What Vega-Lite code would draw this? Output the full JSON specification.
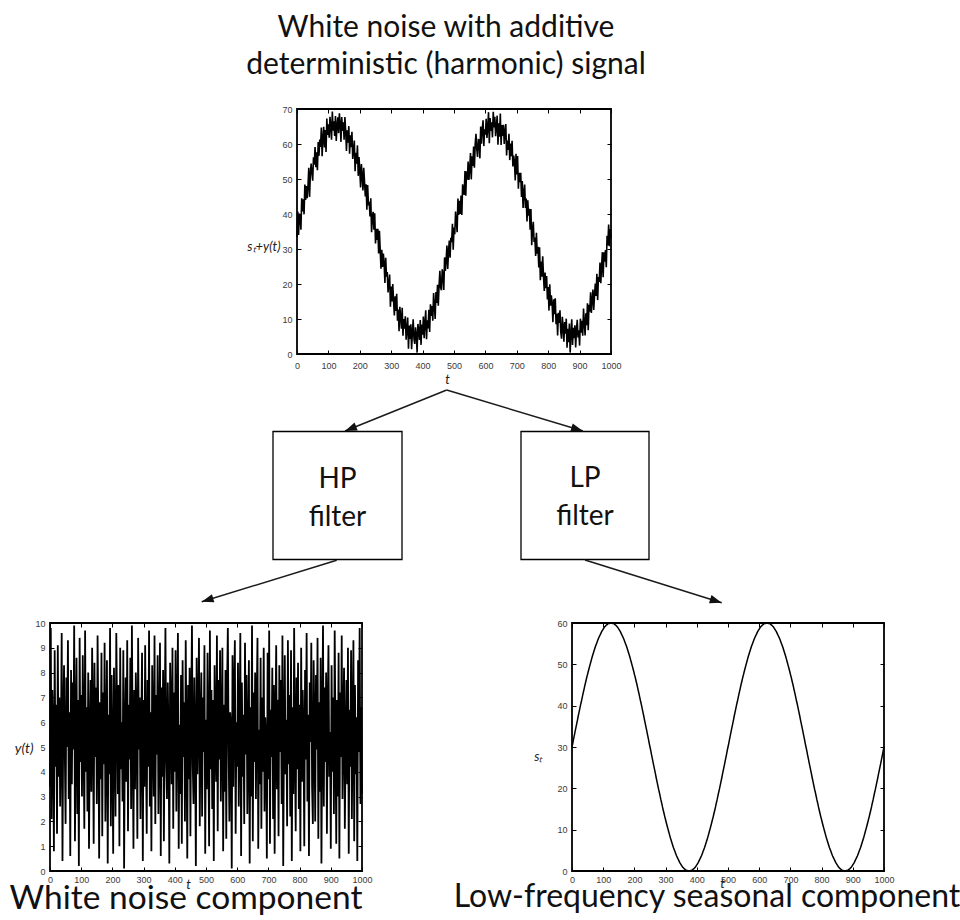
{
  "$schema": "https://vega.github.io/schema/vega-lite/v6.json",
  "background": "white",
  "padding": {"left": 8, "top": 12, "right": 0, "bottom": 0},
  "config": {
    "view": {"stroke": null},
    "font": "Lato",
    "title": {"font": "Lato", "fontWeight": "normal", "color": "#111"},
    "axis": {
      "grid": false,
      "domain": false,
      "ticks": true,
      "tickSize": -4,
      "tickColor": "black",
      "tickWidth": 1,
      "labelFont": "Liberation Sans",
      "labelFontSize": 9,
      "labelColor": "#3a3a3a",
      "labelFlush": false,
      "labelOverlap": false,
      "labelBound": false,
      "format": "d",
      "titleFont": "Lato",
      "titleFontStyle": "italic",
      "titleFontWeight": "normal",
      "titleFontSize": 13,
      "titleColor": "#222"
    }
  },
  "datasets": {
    "noise": [
      {"t":0,"y":3.4},{"t":2.5,"y":9.8},{"t":5,"y":2.1},{"t":7.5,"y":7.3},{"t":10,"y":5.6},{"t":12.5,"y":0.8},{"t":15,"y":8.9},{"t":17.5,"y":4.2},{"t":20,"y":6.7},{"t":22.5,"y":1.5},{"t":25,"y":9.1},{"t":27.5,"y":3.8},{"t":30,"y":7.0},{"t":32.5,"y":2.6},{"t":35,"y":5.2},{"t":37.5,"y":9.6},{"t":40,"y":0.4},{"t":42.5,"y":6.1},{"t":45,"y":8.3},{"t":47.5,"y":4.7},
      {"t":50,"y":1.9},{"t":52.5,"y":7.8},{"t":55,"y":5.0},{"t":57.5,"y":9.3},{"t":60,"y":2.9},{"t":62.5,"y":6.4},{"t":65,"y":0.6},{"t":67.5,"y":8.1},{"t":70,"y":3.5},{"t":72.5,"y":7.6},{"t":75,"y":4.9},{"t":77.5,"y":9.9},{"t":80,"y":1.2},{"t":82.5,"y":5.8},{"t":85,"y":8.6},{"t":87.5,"y":2.3},{"t":90,"y":6.9},{"t":92.5,"y":0.2},{"t":95,"y":9.4},{"t":97.5,"y":4.4},
      {"t":100,"y":7.1},{"t":102.5,"y":3.0},{"t":105,"y":8.7},{"t":107.5,"y":5.5},{"t":110,"y":1.7},{"t":112.5,"y":9.7},{"t":115,"y":4.0},{"t":117.5,"y":6.6},{"t":120,"y":2.4},{"t":122.5,"y":8.0},{"t":125,"y":0.9},{"t":127.5,"y":5.3},{"t":130,"y":7.7},{"t":132.5,"y":3.2},{"t":135,"y":9.0},{"t":137.5,"y":6.2},{"t":140,"y":1.1},{"t":142.5,"y":8.4},{"t":145,"y":4.6},{"t":147.5,"y":7.4},
      {"t":150,"y":2.7},{"t":152.5,"y":9.5},{"t":155,"y":5.9},{"t":157.5,"y":0.5},{"t":160,"y":6.8},{"t":162.5,"y":3.7},{"t":165,"y":8.8},{"t":167.5,"y":1.4},{"t":170,"y":7.2},{"t":172.5,"y":4.3},{"t":175,"y":9.2},{"t":177.5,"y":2.0},{"t":180,"y":5.1},{"t":182.5,"y":8.5},{"t":185,"y":0.3},{"t":187.5,"y":6.3},{"t":190,"y":3.9},{"t":192.5,"y":9.8},{"t":195,"y":1.8},{"t":197.5,"y":7.9},
      {"t":200,"y":4.8},{"t":202.5,"y":0.7},{"t":205,"y":8.2},{"t":207.5,"y":5.7},{"t":210,"y":2.2},{"t":212.5,"y":9.6},{"t":215,"y":6.5},{"t":217.5,"y":3.1},{"t":220,"y":7.5},{"t":222.5,"y":1.0},{"t":225,"y":9.0},{"t":227.5,"y":4.1},{"t":230,"y":6.0},{"t":232.5,"y":2.8},{"t":235,"y":8.9},{"t":237.5,"y":0.1},{"t":240,"y":5.4},{"t":242.5,"y":7.8},{"t":245,"y":3.6},{"t":247.5,"y":9.3},
      {"t":250,"y":1.6},{"t":252.5,"y":6.7},{"t":255,"y":4.5},{"t":257.5,"y":8.6},{"t":260,"y":2.5},{"t":262.5,"y":9.9},{"t":265,"y":5.2},{"t":267.5,"y":0.9},{"t":270,"y":7.3},{"t":272.5,"y":3.3},{"t":275,"y":8.0},{"t":277.5,"y":6.1},{"t":280,"y":1.3},{"t":282.5,"y":9.4},{"t":285,"y":4.9},{"t":287.5,"y":7.0},{"t":290,"y":2.1},{"t":292.5,"y":5.6},{"t":295,"y":8.8},{"t":297.5,"y":0.4},
      {"t":300,"y":6.9},{"t":302.5,"y":3.4},{"t":305,"y":9.1},{"t":307.5,"y":5.0},{"t":310,"y":1.5},{"t":312.5,"y":7.7},{"t":315,"y":4.2},{"t":317.5,"y":9.7},{"t":320,"y":2.6},{"t":322.5,"y":6.4},{"t":325,"y":0.8},{"t":327.5,"y":8.3},{"t":330,"y":5.8},{"t":332.5,"y":3.0},{"t":335,"y":9.5},{"t":337.5,"y":1.9},{"t":340,"y":7.1},{"t":342.5,"y":4.7},{"t":345,"y":8.7},{"t":347.5,"y":2.3},
      {"t":350,"y":5.5},{"t":352.5,"y":9.2},{"t":355,"y":0.6},{"t":357.5,"y":7.4},{"t":360,"y":3.8},{"t":362.5,"y":8.1},{"t":365,"y":1.2},{"t":367.5,"y":6.0},{"t":370,"y":9.8},{"t":372.5,"y":4.4},{"t":375,"y":2.9},{"t":377.5,"y":7.6},{"t":380,"y":5.3},{"t":382.5,"y":0.3},{"t":385,"y":8.4},{"t":387.5,"y":6.6},{"t":390,"y":3.5},{"t":392.5,"y":9.0},{"t":395,"y":1.7},{"t":397.5,"y":7.2},
      {"t":400,"y":4.0},{"t":402.5,"y":8.9},{"t":405,"y":2.4},{"t":407.5,"y":6.3},{"t":410,"y":9.6},{"t":412.5,"y":0.9},{"t":415,"y":5.9},{"t":417.5,"y":3.1},{"t":420,"y":7.9},{"t":422.5,"y":1.1},{"t":425,"y":8.5},{"t":427.5,"y":4.6},{"t":430,"y":6.8},{"t":432.5,"y":2.0},{"t":435,"y":9.3},{"t":437.5,"y":5.1},{"t":440,"y":0.5},{"t":442.5,"y":7.5},{"t":445,"y":3.7},{"t":447.5,"y":8.2},
      {"t":450,"y":1.4},{"t":452.5,"y":6.5},{"t":455,"y":9.9},{"t":457.5,"y":4.3},{"t":460,"y":2.7},{"t":462.5,"y":7.8},{"t":465,"y":5.4},{"t":467.5,"y":0.2},{"t":470,"y":8.6},{"t":472.5,"y":3.9},{"t":475,"y":6.2},{"t":477.5,"y":9.4},{"t":480,"y":1.8},{"t":482.5,"y":5.7},{"t":485,"y":8.0},{"t":487.5,"y":2.2},{"t":490,"y":7.0},{"t":492.5,"y":4.8},{"t":495,"y":9.1},{"t":497.5,"y":0.7},
      {"t":500,"y":6.1},{"t":502.5,"y":3.3},{"t":505,"y":8.8},{"t":507.5,"y":5.0},{"t":510,"y":1.0},{"t":512.5,"y":9.7},{"t":515,"y":4.1},{"t":517.5,"y":7.3},{"t":520,"y":2.5},{"t":522.5,"y":6.9},{"t":525,"y":0.4},{"t":527.5,"y":8.3},{"t":530,"y":5.6},{"t":532.5,"y":3.6},{"t":535,"y":9.5},{"t":537.5,"y":1.6},{"t":540,"y":7.7},{"t":542.5,"y":4.5},{"t":545,"y":8.9},{"t":547.5,"y":2.8},
      {"t":550,"y":5.3},{"t":552.5,"y":9.0},{"t":555,"y":0.8},{"t":557.5,"y":6.7},{"t":560,"y":3.2},{"t":562.5,"y":8.1},{"t":565,"y":1.3},{"t":567.5,"y":7.4},{"t":570,"y":9.8},{"t":572.5,"y":4.9},{"t":575,"y":2.0},{"t":577.5,"y":6.4},{"t":580,"y":5.8},{"t":582.5,"y":0.1},{"t":585,"y":8.7},{"t":587.5,"y":3.4},{"t":590,"y":7.1},{"t":592.5,"y":9.3},{"t":595,"y":1.5},{"t":597.5,"y":6.0},
      {"t":600,"y":4.2},{"t":602.5,"y":8.4},{"t":605,"y":2.6},{"t":607.5,"y":5.5},{"t":610,"y":9.6},{"t":612.5,"y":0.6},{"t":615,"y":7.6},{"t":617.5,"y":3.8},{"t":620,"y":6.3},{"t":622.5,"y":1.9},{"t":625,"y":9.2},{"t":627.5,"y":4.7},{"t":630,"y":7.9},{"t":632.5,"y":2.3},{"t":635,"y":5.1},{"t":637.5,"y":8.5},{"t":640,"y":0.3},{"t":642.5,"y":6.6},{"t":645,"y":3.0},{"t":647.5,"y":9.9},
      {"t":650,"y":1.2},{"t":652.5,"y":7.2},{"t":655,"y":4.4},{"t":657.5,"y":8.0},{"t":660,"y":2.9},{"t":662.5,"y":6.8},{"t":665,"y":9.4},{"t":667.5,"y":0.9},{"t":670,"y":5.7},{"t":672.5,"y":3.5},{"t":675,"y":8.6},{"t":677.5,"y":1.7},{"t":680,"y":7.0},{"t":682.5,"y":4.0},{"t":685,"y":9.0},{"t":687.5,"y":2.4},{"t":690,"y":6.2},{"t":692.5,"y":5.2},{"t":695,"y":0.5},{"t":697.5,"y":8.8},
      {"t":700,"y":3.7},{"t":702.5,"y":9.7},{"t":705,"y":1.1},{"t":707.5,"y":6.5},{"t":710,"y":4.6},{"t":712.5,"y":8.2},{"t":715,"y":2.1},{"t":717.5,"y":7.5},{"t":720,"y":0.7},{"t":722.5,"y":5.9},{"t":725,"y":9.1},{"t":727.5,"y":3.3},{"t":730,"y":6.9},{"t":732.5,"y":1.4},{"t":735,"y":8.3},{"t":737.5,"y":4.8},{"t":740,"y":7.7},{"t":742.5,"y":2.7},{"t":745,"y":9.5},{"t":747.5,"y":0.2},
      {"t":750,"y":5.4},{"t":752.5,"y":8.7},{"t":755,"y":3.9},{"t":757.5,"y":6.1},{"t":760,"y":1.8},{"t":762.5,"y":9.3},{"t":765,"y":4.3},{"t":767.5,"y":7.1},{"t":770,"y":2.2},{"t":772.5,"y":8.9},{"t":775,"y":0.4},{"t":777.5,"y":6.6},{"t":780,"y":3.1},{"t":782.5,"y":9.8},{"t":785,"y":5.0},{"t":787.5,"y":1.6},{"t":790,"y":7.8},{"t":792.5,"y":4.1},{"t":795,"y":8.4},{"t":797.5,"y":2.5},
      {"t":800,"y":6.7},{"t":802.5,"y":0.8},{"t":805,"y":9.0},{"t":807.5,"y":3.6},{"t":810,"y":7.3},{"t":812.5,"y":5.5},{"t":815,"y":1.0},{"t":817.5,"y":8.1},{"t":820,"y":4.5},{"t":822.5,"y":9.6},{"t":825,"y":2.8},{"t":827.5,"y":6.3},{"t":830,"y":0.6},{"t":832.5,"y":7.6},{"t":835,"y":5.2},{"t":837.5,"y":9.2},{"t":840,"y":3.4},{"t":842.5,"y":1.9},{"t":845,"y":8.5},{"t":847.5,"y":6.0},
      {"t":850,"y":2.0},{"t":852.5,"y":7.9},{"t":855,"y":4.9},{"t":857.5,"y":9.4},{"t":860,"y":1.3},{"t":862.5,"y":6.8},{"t":865,"y":3.2},{"t":867.5,"y":8.6},{"t":870,"y":0.3},{"t":872.5,"y":5.8},{"t":875,"y":9.9},{"t":877.5,"y":2.6},{"t":880,"y":7.4},{"t":882.5,"y":4.4},{"t":885,"y":8.0},{"t":887.5,"y":1.5},{"t":890,"y":6.4},{"t":892.5,"y":9.1},{"t":895,"y":3.8},{"t":897.5,"y":5.6},
      {"t":900,"y":0.9},{"t":902.5,"y":8.3},{"t":905,"y":4.0},{"t":907.5,"y":7.0},{"t":910,"y":2.3},{"t":912.5,"y":9.7},{"t":915,"y":5.3},{"t":917.5,"y":1.1},{"t":920,"y":6.9},{"t":922.5,"y":3.0},{"t":925,"y":8.8},{"t":927.5,"y":0.5},{"t":930,"y":7.2},{"t":932.5,"y":4.6},{"t":935,"y":9.5},{"t":937.5,"y":2.9},{"t":940,"y":6.1},{"t":942.5,"y":8.2},{"t":945,"y":1.7},{"t":947.5,"y":5.1},
      {"t":950,"y":7.7},{"t":952.5,"y":3.5},{"t":955,"y":9.0},{"t":957.5,"y":0.7},{"t":960,"y":6.5},{"t":962.5,"y":4.2},{"t":965,"y":8.9},{"t":967.5,"y":2.1},{"t":970,"y":5.9},{"t":972.5,"y":9.3},{"t":975,"y":1.2},{"t":977.5,"y":7.5},{"t":980,"y":3.9},{"t":982.5,"y":6.2},{"t":985,"y":0.4},{"t":987.5,"y":8.5},{"t":990,"y":4.8},{"t":992.5,"y":9.8},{"t":995,"y":2.7},{"t":997.5,"y":6.6},
      {"t":1000,"y":3.1}
    ],
    "signal": [
      {"t":0,"s":30.0,"v":33.4},{"t":5,"s":31.9,"v":34.0},{"t":10,"s":33.8,"v":39.4},{"t":15,"s":35.6,"v":44.5},{"t":20,"s":37.5,"v":44.2},{"t":25,"s":39.3,"v":48.4},{"t":30,"s":41.0,"v":48.0},{"t":35,"s":42.8,"v":48.0},{"t":40,"s":44.5,"v":44.9},{"t":45,"s":46.1,"v":54.4},
      {"t":50,"s":47.6,"v":49.5},{"t":55,"s":49.1,"v":54.1},{"t":60,"s":50.5,"v":53.4},{"t":65,"s":51.9,"v":52.5},{"t":70,"s":53.1,"v":56.6},{"t":75,"s":54.3,"v":59.2},{"t":80,"s":55.3,"v":56.5},{"t":85,"s":56.3,"v":64.9},{"t":90,"s":57.1,"v":64.0},{"t":95,"s":57.9,"v":67.3},
      {"t":100,"s":58.5,"v":65.6},{"t":105,"s":59.1,"v":67.8},{"t":110,"s":59.5,"v":61.2},{"t":115,"s":59.8,"v":63.8},{"t":120,"s":59.9,"v":62.3},{"t":125,"s":60.0,"v":60.9},{"t":130,"s":59.9,"v":67.6},{"t":135,"s":59.8,"v":68.8},{"t":140,"s":59.5,"v":60.6},{"t":145,"s":59.1,"v":63.7},
      {"t":150,"s":58.5,"v":61.2},{"t":155,"s":57.9,"v":63.8},{"t":160,"s":57.1,"v":63.9},{"t":165,"s":56.3,"v":65.1},{"t":170,"s":55.3,"v":62.5},{"t":175,"s":54.3,"v":63.5},{"t":180,"s":53.1,"v":58.2},{"t":185,"s":51.9,"v":52.2},{"t":190,"s":50.5,"v":54.4},{"t":195,"s":49.1,"v":50.9},
      {"t":200,"s":47.6,"v":52.4},{"t":205,"s":46.1,"v":54.3},{"t":210,"s":44.5,"v":46.7},{"t":215,"s":42.8,"v":49.3},{"t":220,"s":41.0,"v":48.5},{"t":225,"s":39.3,"v":48.3},{"t":230,"s":37.5,"v":43.5},{"t":235,"s":35.6,"v":44.5},{"t":240,"s":33.8,"v":39.2},{"t":245,"s":31.9,"v":35.5},
      {"t":250,"s":30.0,"v":31.6},{"t":255,"s":28.1,"v":32.6},{"t":260,"s":26.2,"v":28.7},{"t":265,"s":24.4,"v":29.6},{"t":270,"s":22.5,"v":29.8},{"t":275,"s":20.7,"v":28.7},{"t":280,"s":19.0,"v":20.3},{"t":285,"s":17.2,"v":22.1},{"t":290,"s":15.5,"v":17.6},{"t":295,"s":13.9,"v":22.7},
      {"t":300,"s":12.4,"v":19.3},{"t":305,"s":10.9,"v":20.0},{"t":310,"s":9.5,"v":11.0},{"t":315,"s":8.1,"v":12.3},{"t":320,"s":6.9,"v":9.5},{"t":325,"s":5.7,"v":6.5},{"t":330,"s":4.7,"v":10.5},{"t":335,"s":3.7,"v":13.2},{"t":340,"s":2.9,"v":10.0},{"t":345,"s":2.1,"v":10.8},
      {"t":350,"s":1.5,"v":7.0},{"t":355,"s":0.9,"v":1.5},{"t":360,"s":0.5,"v":4.3},{"t":365,"s":0.2,"v":1.4},{"t":370,"s":0.1,"v":9.9},{"t":375,"s":0.0,"v":2.9},{"t":380,"s":0.1,"v":5.4},{"t":385,"s":0.2,"v":8.6},{"t":390,"s":0.5,"v":4.0},{"t":395,"s":0.9,"v":2.6},
      {"t":400,"s":1.5,"v":5.5},{"t":405,"s":2.1,"v":4.5},{"t":410,"s":2.9,"v":12.5},{"t":415,"s":3.7,"v":9.6},{"t":420,"s":4.7,"v":12.6},{"t":425,"s":5.7,"v":14.2},{"t":430,"s":6.9,"v":13.7},{"t":435,"s":8.1,"v":17.4},{"t":440,"s":9.5,"v":10.0},{"t":445,"s":10.9,"v":14.6},
      {"t":450,"s":12.4,"v":13.8},{"t":455,"s":13.9,"v":23.8},{"t":460,"s":15.5,"v":18.2},{"t":465,"s":17.2,"v":22.6},{"t":470,"s":19.0,"v":27.6},{"t":475,"s":20.7,"v":26.9},{"t":480,"s":22.5,"v":24.3},{"t":485,"s":24.4,"v":32.4},{"t":490,"s":26.2,"v":33.2},{"t":495,"s":28.1,"v":37.2},
      {"t":500,"s":30.0,"v":36.1},{"t":505,"s":31.9,"v":40.7},{"t":510,"s":33.8,"v":34.8},{"t":515,"s":35.6,"v":39.7},{"t":520,"s":37.5,"v":40.0},{"t":525,"s":39.3,"v":39.7},{"t":530,"s":41.0,"v":46.6},{"t":535,"s":42.8,"v":52.3},{"t":540,"s":44.5,"v":52.2},{"t":545,"s":46.1,"v":55.0},
      {"t":550,"s":47.6,"v":52.9},{"t":555,"s":49.1,"v":49.9},{"t":560,"s":50.5,"v":53.7},{"t":565,"s":51.9,"v":53.2},{"t":570,"s":53.1,"v":62.9},{"t":575,"s":54.3,"v":56.3},{"t":580,"s":55.3,"v":61.1},{"t":585,"s":56.3,"v":65.0},{"t":590,"s":57.1,"v":64.2},{"t":595,"s":57.9,"v":59.4},
      {"t":600,"s":58.5,"v":62.7},{"t":605,"s":59.1,"v":61.7},{"t":610,"s":59.5,"v":69.1},{"t":615,"s":59.8,"v":67.4},{"t":620,"s":59.9,"v":66.2},{"t":625,"s":60.0,"v":69.2},{"t":630,"s":59.9,"v":67.8},{"t":635,"s":59.8,"v":64.9},{"t":640,"s":59.5,"v":59.8},{"t":645,"s":59.1,"v":62.1},
      {"t":650,"s":58.5,"v":59.7},{"t":655,"s":57.9,"v":62.3},{"t":660,"s":57.1,"v":60.0},{"t":665,"s":56.3,"v":65.7},{"t":670,"s":55.3,"v":61.0},{"t":675,"s":54.3,"v":62.9},{"t":680,"s":53.1,"v":60.1},{"t":685,"s":51.9,"v":60.9},{"t":690,"s":50.5,"v":56.7},{"t":695,"s":49.1,"v":49.6},
      {"t":700,"s":47.6,"v":51.3},{"t":705,"s":46.1,"v":47.2},{"t":710,"s":44.5,"v":49.1},{"t":715,"s":42.8,"v":44.9},{"t":720,"s":41.0,"v":41.7},{"t":725,"s":39.3,"v":48.4},{"t":730,"s":37.5,"v":44.4},{"t":735,"s":35.6,"v":43.9},{"t":740,"s":33.8,"v":41.5},{"t":745,"s":31.9,"v":41.4},
      {"t":750,"s":30.0,"v":35.4},{"t":755,"s":28.1,"v":32.0},{"t":760,"s":26.2,"v":28.0},{"t":765,"s":24.4,"v":28.7},{"t":770,"s":22.5,"v":24.7},{"t":775,"s":20.7,"v":21.1},{"t":780,"s":19.0,"v":22.1},{"t":785,"s":17.2,"v":22.2},{"t":790,"s":15.5,"v":23.3},{"t":795,"s":13.9,"v":22.3},
      {"t":800,"s":12.4,"v":19.1},{"t":805,"s":10.9,"v":19.9},{"t":810,"s":9.5,"v":16.8},{"t":815,"s":8.1,"v":9.1},{"t":820,"s":6.9,"v":11.4},{"t":825,"s":5.7,"v":8.5},{"t":830,"s":4.7,"v":5.3},{"t":835,"s":3.7,"v":8.9},{"t":840,"s":2.9,"v":6.3},{"t":845,"s":2.1,"v":10.6},
      {"t":850,"s":1.5,"v":3.5},{"t":855,"s":0.9,"v":5.8},{"t":860,"s":0.5,"v":1.8},{"t":865,"s":0.2,"v":3.4},{"t":870,"s":0.1,"v":0.4},{"t":875,"s":0.0,"v":9.9},{"t":880,"s":0.1,"v":7.5},{"t":885,"s":0.2,"v":8.2},{"t":890,"s":0.5,"v":6.9},{"t":895,"s":0.9,"v":4.7},
      {"t":900,"s":1.5,"v":2.4},{"t":905,"s":2.1,"v":6.1},{"t":910,"s":2.9,"v":5.2},{"t":915,"s":3.7,"v":9.0},{"t":920,"s":4.7,"v":11.6},{"t":925,"s":5.7,"v":14.5},{"t":930,"s":6.9,"v":14.1},{"t":935,"s":8.1,"v":17.6},{"t":940,"s":9.5,"v":15.6},{"t":945,"s":10.9,"v":12.6},
      {"t":950,"s":12.4,"v":20.1},{"t":955,"s":13.9,"v":22.9},{"t":960,"s":15.5,"v":22.0},{"t":965,"s":17.2,"v":26.1},{"t":970,"s":19.0,"v":24.9},{"t":975,"s":20.7,"v":21.9},{"t":980,"s":22.5,"v":26.4},{"t":985,"s":24.4,"v":24.8},{"t":990,"s":26.2,"v":31.0},{"t":995,"s":28.1,"v":30.8},
      {"t":1000,"s":30.0,"v":33.1},
      {"t":2.5,"s":30.9,"v":40.7},{"t":7.5,"s":32.8,"v":40.1},{"t":12.5,"s":34.7,"v":35.5},{"t":17.5,"s":36.5,"v":40.7},{"t":22.5,"s":38.4,"v":39.9},{"t":27.5,"s":40.2,"v":44.0},{"t":32.5,"s":41.9,"v":44.5},{"t":37.5,"s":43.6,"v":53.2},{"t":42.5,"s":45.3,"v":51.4},{"t":47.5,"s":46.9,"v":51.6},
      {"t":52.5,"s":48.4,"v":56.2},{"t":57.5,"s":49.8,"v":59.1},{"t":62.5,"s":51.2,"v":57.6},{"t":67.5,"s":52.5,"v":60.6},{"t":72.5,"s":53.7,"v":61.3},{"t":77.5,"s":54.8,"v":64.7},{"t":82.5,"s":55.8,"v":61.6},{"t":87.5,"s":56.7,"v":59.0},{"t":92.5,"s":57.5,"v":57.7},{"t":97.5,"s":58.2,"v":62.6},
      {"t":102.5,"s":58.8,"v":61.8},{"t":107.5,"s":59.3,"v":64.8},{"t":112.5,"s":59.6,"v":69.3},{"t":117.5,"s":59.9,"v":66.5},{"t":122.5,"s":60.0,"v":68.0},{"t":127.5,"s":60.0,"v":65.3},{"t":132.5,"s":59.9,"v":63.1},{"t":137.5,"s":59.6,"v":65.8},{"t":142.5,"s":59.3,"v":67.7},{"t":147.5,"s":58.8,"v":66.2},
      {"t":152.5,"s":58.2,"v":67.7},{"t":157.5,"s":57.5,"v":58.0},{"t":162.5,"s":56.7,"v":60.4},{"t":167.5,"s":55.8,"v":57.2},{"t":172.5,"s":54.8,"v":59.1},{"t":177.5,"s":53.7,"v":55.7},{"t":182.5,"s":52.5,"v":61.0},{"t":187.5,"s":51.2,"v":57.5},{"t":192.5,"s":49.8,"v":59.6},{"t":197.5,"s":48.4,"v":56.3},
      {"t":202.5,"s":46.9,"v":47.6},{"t":207.5,"s":45.3,"v":51.0},{"t":212.5,"s":43.6,"v":53.2},{"t":217.5,"s":41.9,"v":45.0},{"t":222.5,"s":40.2,"v":41.2},{"t":227.5,"s":38.4,"v":42.5},{"t":232.5,"s":36.5,"v":39.3},{"t":237.5,"s":34.7,"v":34.8},{"t":242.5,"s":32.8,"v":40.6},{"t":247.5,"s":30.9,"v":40.2},
      {"t":252.5,"s":29.1,"v":35.8},{"t":257.5,"s":27.2,"v":35.8},{"t":262.5,"s":25.3,"v":35.2},{"t":267.5,"s":23.5,"v":24.4},{"t":272.5,"s":21.6,"v":24.9},{"t":277.5,"s":19.8,"v":25.9},{"t":282.5,"s":18.1,"v":27.5},{"t":287.5,"s":16.4,"v":23.4},{"t":292.5,"s":14.7,"v":20.3},{"t":297.5,"s":13.1,"v":13.5},
      {"t":302.5,"s":11.6,"v":15.0},{"t":307.5,"s":10.2,"v":15.2},{"t":312.5,"s":8.8,"v":16.5},{"t":317.5,"s":7.5,"v":17.2},{"t":322.5,"s":6.3,"v":12.7},{"t":327.5,"s":5.2,"v":13.5},{"t":332.5,"s":4.2,"v":7.2},{"t":337.5,"s":3.3,"v":5.2},{"t":342.5,"s":2.5,"v":7.2},{"t":347.5,"s":1.8,"v":4.1},
      {"t":352.5,"s":1.2,"v":10.4},{"t":357.5,"s":0.7,"v":8.1},{"t":362.5,"s":0.4,"v":8.5},{"t":367.5,"s":0.1,"v":6.1},{"t":372.5,"s":0.0,"v":4.4},{"t":377.5,"s":0.0,"v":7.6},{"t":382.5,"s":0.1,"v":0.4},{"t":387.5,"s":0.4,"v":7.0},{"t":392.5,"s":0.7,"v":9.7},{"t":397.5,"s":1.2,"v":8.4},
      {"t":402.5,"s":1.8,"v":10.7},{"t":407.5,"s":2.5,"v":8.8},{"t":412.5,"s":3.3,"v":4.2},{"t":417.5,"s":4.2,"v":7.3},{"t":422.5,"s":5.2,"v":6.3},{"t":427.5,"s":6.3,"v":10.9},{"t":432.5,"s":7.5,"v":9.5},{"t":437.5,"s":8.8,"v":13.9},{"t":442.5,"s":10.2,"v":17.7},{"t":447.5,"s":11.6,"v":19.8},
      {"t":452.5,"s":13.1,"v":19.6},{"t":457.5,"s":14.7,"v":19.0},{"t":462.5,"s":16.4,"v":24.2},{"t":467.5,"s":18.1,"v":18.3},{"t":472.5,"s":19.8,"v":23.7},{"t":477.5,"s":21.6,"v":31.0},{"t":482.5,"s":23.5,"v":29.2},{"t":487.5,"s":25.3,"v":27.5},{"t":492.5,"s":27.2,"v":32.0},{"t":497.5,"s":29.1,"v":29.8},
      {"t":502.5,"s":30.9,"v":34.2},{"t":507.5,"s":32.8,"v":37.8},{"t":512.5,"s":34.7,"v":44.4},{"t":517.5,"s":36.5,"v":43.8},{"t":522.5,"s":38.4,"v":45.3},{"t":527.5,"s":40.2,"v":48.5},{"t":532.5,"s":41.9,"v":45.5},{"t":537.5,"s":43.6,"v":45.2},{"t":542.5,"s":45.3,"v":49.8},{"t":547.5,"s":46.9,"v":49.7},
      {"t":552.5,"s":48.4,"v":57.4},{"t":557.5,"s":49.8,"v":56.5},{"t":562.5,"s":51.2,"v":59.3},{"t":567.5,"s":52.5,"v":59.9},{"t":572.5,"s":53.7,"v":58.6},{"t":577.5,"s":54.8,"v":61.2},{"t":582.5,"s":55.8,"v":55.9},{"t":587.5,"s":56.7,"v":60.1},{"t":592.5,"s":57.5,"v":66.8},{"t":597.5,"s":58.2,"v":64.2},
      {"t":602.5,"s":58.8,"v":67.2},{"t":607.5,"s":59.3,"v":64.8},{"t":612.5,"s":59.6,"v":60.2},{"t":617.5,"s":59.9,"v":63.7},{"t":622.5,"s":60.0,"v":61.9},{"t":627.5,"s":60.0,"v":64.7},{"t":632.5,"s":59.9,"v":62.2},{"t":637.5,"s":59.6,"v":68.1},{"t":642.5,"s":59.3,"v":65.9},{"t":647.5,"s":58.8,"v":68.7},
      {"t":652.5,"s":58.2,"v":65.4},{"t":657.5,"s":57.5,"v":65.5},{"t":662.5,"s":56.7,"v":63.5},{"t":667.5,"s":55.8,"v":56.7},{"t":672.5,"s":54.8,"v":58.3},{"t":677.5,"s":53.7,"v":55.4},{"t":682.5,"s":52.5,"v":56.5},{"t":687.5,"s":51.2,"v":53.6},{"t":692.5,"s":49.8,"v":55.0},{"t":697.5,"s":48.4,"v":57.2},
      {"t":702.5,"s":46.9,"v":56.6},{"t":707.5,"s":45.3,"v":51.8},{"t":712.5,"s":43.6,"v":51.8},{"t":717.5,"s":41.9,"v":49.4},{"t":722.5,"s":40.2,"v":46.1},{"t":727.5,"s":38.4,"v":41.7},{"t":732.5,"s":36.5,"v":37.9},{"t":737.5,"s":34.7,"v":39.5},{"t":742.5,"s":32.8,"v":35.5},{"t":747.5,"s":30.9,"v":31.1},
      {"t":752.5,"s":29.1,"v":37.8},{"t":757.5,"s":27.2,"v":33.3},{"t":762.5,"s":25.3,"v":34.6},{"t":767.5,"s":23.5,"v":30.6},{"t":772.5,"s":21.6,"v":30.5},{"t":777.5,"s":19.8,"v":26.4},{"t":782.5,"s":18.1,"v":27.9},{"t":787.5,"s":16.4,"v":18.0},{"t":792.5,"s":14.7,"v":18.8},{"t":797.5,"s":13.1,"v":15.6},
      {"t":802.5,"s":11.6,"v":12.4},{"t":807.5,"s":10.2,"v":13.8},{"t":812.5,"s":8.8,"v":14.3},{"t":817.5,"s":7.5,"v":15.6},{"t":822.5,"s":6.3,"v":15.9},{"t":827.5,"s":5.2,"v":11.5},{"t":832.5,"s":4.2,"v":11.8},{"t":837.5,"s":3.3,"v":12.5},{"t":842.5,"s":2.5,"v":4.4},{"t":847.5,"s":1.8,"v":7.8},
      {"t":852.5,"s":1.2,"v":9.1},{"t":857.5,"s":0.7,"v":10.1},{"t":862.5,"s":0.4,"v":7.2},{"t":867.5,"s":0.1,"v":8.7},{"t":872.5,"s":0.0,"v":5.8},{"t":877.5,"s":0.0,"v":2.6},{"t":882.5,"s":0.1,"v":4.5},{"t":887.5,"s":0.4,"v":1.9},{"t":892.5,"s":0.7,"v":9.8},{"t":897.5,"s":1.2,"v":6.8},
      {"t":902.5,"s":1.8,"v":10.1},{"t":907.5,"s":2.5,"v":9.5},{"t":912.5,"s":3.3,"v":13.0},{"t":917.5,"s":4.2,"v":5.3},{"t":922.5,"s":5.2,"v":8.2},{"t":927.5,"s":6.3,"v":6.8},{"t":932.5,"s":7.5,"v":12.1},{"t":937.5,"s":8.8,"v":11.7},{"t":942.5,"s":10.2,"v":18.4},{"t":947.5,"s":11.6,"v":16.7},
      {"t":952.5,"s":13.1,"v":16.6},{"t":957.5,"s":14.7,"v":15.4},{"t":962.5,"s":16.4,"v":20.6},{"t":967.5,"s":18.1,"v":20.2},{"t":972.5,"s":19.8,"v":29.1},{"t":977.5,"s":21.6,"v":29.1},{"t":982.5,"s":23.5,"v":29.7},{"t":987.5,"s":25.3,"v":33.8},{"t":992.5,"s":27.2,"v":37.0},{"t":997.5,"s":29.1,"v":35.7}
    ],
    "boxes": [
      {"filter": "HP", "x0": 223, "x1": 352, "y0": 77.5, "y1": 205.5, "cx": 287.5, "ty": 112.2, "label": "HP\nfilter"},
      {"filter": "LP", "x0": 471, "x1": 599, "y0": 77.5, "y1": 205.5, "cx": 535, "ty": 111.2, "label": "LP\nfilter"}
    ],
    "arrows": [
      {"from": "signal", "to": "HP", "x0": 396.7, "y0": 36, "x1": 295, "y1": 77, "angle": 248},
      {"from": "signal", "to": "LP", "x0": 396.7, "y0": 36, "x1": 533, "y1": 77, "angle": 106.7},
      {"from": "HP", "to": "noise", "x0": 286.7, "y0": 206.3, "x1": 151.7, "y1": 247.7, "angle": 253},
      {"from": "LP", "to": "seasonal", "x0": 535, "y0": 206, "x1": 671.7, "y1": 248.7, "angle": 107.3}
    ]
  },
  "spacing": 0,
  "bounds": "flush",
  "vconcat": [
    {
      "spacing": 0,
      "bounds": "flush",
      "hconcat": [
        {
          "width": 247,
          "height": 1,
          "data": {"values": [{"k": 0}]},
          "mark": {"type": "text"},
          "encoding": {"text": {"value": ""}}
        },
        {
          "width": 314,
          "height": 245,
          "view": {"stroke": "black", "strokeWidth": 1.8},
          "data": {"name": "signal"},
          "title": {
            "text": ["White noise with additive", "deterministic (harmonic) signal"],
            "fontSize": 30,
            "lineHeight": 37,
            "anchor": "middle",
            "frame": "group",
            "dx": -8,
            "offset": 25
          },
          "layer": [
            {
              "mark": {"type": "line", "color": "black", "strokeWidth": 1.6},
              "encoding": {
                "x": {
                  "field": "t", "type": "quantitative",
                  "scale": {"domain": [0, 1000], "nice": false},
                  "axis": {"values": [0,100,200,300,400,500,600,700,800,900,1000], "title": "t", "titleX": 150, "titleY": 29.5, "titleAlign": "center", "titleBaseline": "alphabetic", "labelPadding": 11}
                },
                "y": {
                  "field": "v", "type": "quantitative",
                  "scale": {"domain": [0, 70], "nice": false},
                  "axis": {"values": [0,10,20,30,40,50,60,70], "title": "sₜ+y(t)", "titleAngle": 0, "titleX": -17, "titleY": 137, "titleAlign": "right", "titleBaseline": "middle", "labelPadding": 9}
                }
              }
            },
            {
              "mark": {"type": "point", "opacity": 0},
              "encoding": {
                "x": {"field": "t", "type": "quantitative", "axis": {"orient": "top", "values": [0,100,200,300,400,500,600,700,800,900,1000], "labels": false, "title": null}},
                "y": {"field": "v", "type": "quantitative", "axis": {"orient": "right", "values": [0,10,20,30,40,50,60,70], "labels": false, "title": null}}
              }
            }
          ],
          "resolve": {"axis": {"x": "independent", "y": "independent"}}
        }
      ]
    },
    {
      "width": 1,
      "height": 245,
      "data": {"values": [{"k": 0}]},
      "mark": {"type": "text"},
      "encoding": {"text": {"value": ""}}
    },
    {
      "width": 834,
      "height": 269,
      "layer": [
        {
          "data": {"name": "boxes"},
          "mark": {"type": "rect", "fill": "white", "stroke": "black", "strokeWidth": 1.3},
          "encoding": {
            "x": {"field": "x0", "type": "quantitative", "scale": {"domain": [0, 834], "nice": false, "zero": false}, "axis": null},
            "x2": {"field": "x1"},
            "y": {"field": "y0", "type": "quantitative", "scale": {"domain": [0, 269], "nice": false, "zero": false, "reverse": true}, "axis": null},
            "y2": {"field": "y1"}
          }
        },
        {
          "data": {"name": "boxes"},
          "mark": {"type": "text", "font": "Lato", "fontSize": 28, "lineBreak": "\n", "lineHeight": 38.3, "baseline": "top", "align": "center", "color": "#111"},
          "encoding": {
            "x": {"field": "cx", "type": "quantitative"},
            "y": {"field": "ty", "type": "quantitative"},
            "text": {"field": "label"}
          }
        },
        {
          "data": {"name": "arrows"},
          "mark": {"type": "rule", "color": "#1a1a1a", "strokeWidth": 1.5},
          "encoding": {
            "x": {"field": "x0", "type": "quantitative"},
            "y": {"field": "y0", "type": "quantitative"},
            "x2": {"field": "x1"},
            "y2": {"field": "y1"}
          }
        },
        {
          "data": {"name": "arrows"},
          "mark": {"type": "point", "shape": "M0,0L-0.35,1L0.35,1Z", "filled": true, "size": 576, "color": "#111", "opacity": 1},
          "encoding": {
            "x": {"field": "x1", "type": "quantitative"},
            "y": {"field": "y1", "type": "quantitative"},
            "angle": {"field": "angle", "type": "quantitative", "scale": null}
          }
        }
      ]
    },
    {
      "spacing": 210,
      "bounds": "flush",
      "hconcat": [
        {
          "width": 312,
          "height": 248,
          "view": {"stroke": "black", "strokeWidth": 1.8},
          "data": {"name": "noise"},
          "title": {"text": "White noise component", "orient": "bottom", "anchor": "middle", "frame": "group", "dx": -20, "offset": -8, "fontSize": 33.5},
          "layer": [
            {
              "mark": {"type": "line", "color": "black", "strokeWidth": 1.8},
              "encoding": {
                "x": {
                  "field": "t", "type": "quantitative",
                  "scale": {"domain": [0, 1000], "nice": false},
                  "axis": {"values": [0,100,200,300,400,500,600,700,800,900,1000], "title": "t", "titleX": 138, "titleY": 17, "titleAlign": "center", "titleBaseline": "alphabetic", "labelPadding": 8}
                },
                "y": {
                  "field": "y", "type": "quantitative",
                  "scale": {"domain": [0, 10], "nice": false},
                  "axis": {"values": [0,1,2,3,4,5,6,7,8,9,10], "title": "y(t)", "titleAngle": 0, "titleX": -17, "titleY": 125, "titleAlign": "right", "titleBaseline": "middle", "titleFontSize": 14, "labelPadding": 9}
                }
              }
            },
            {
              "mark": {"type": "point", "opacity": 0},
              "encoding": {
                "x": {"field": "t", "type": "quantitative", "axis": {"orient": "top", "values": [0,100,200,300,400,500,600,700,800,900,1000], "labels": false, "title": null}},
                "y": {"field": "y", "type": "quantitative", "axis": {"orient": "right", "values": [0,1,2,3,4,5,6,7,8,9,10], "labels": false, "title": null}}
              }
            }
          ],
          "resolve": {"axis": {"x": "independent", "y": "independent"}}
        },
        {
          "width": 312,
          "height": 248,
          "view": {"stroke": "black", "strokeWidth": 1.8},
          "data": {"name": "signal"},
          "title": {"text": "Low-frequency seasonal component", "orient": "bottom", "anchor": "middle", "frame": "group", "dx": -21, "offset": -8, "fontSize": 32},
          "layer": [
            {
              "mark": {"type": "line", "color": "black", "strokeWidth": 1.5},
              "encoding": {
                "x": {
                  "field": "t", "type": "quantitative",
                  "scale": {"domain": [0, 1000], "nice": false},
                  "axis": {"values": [0,100,200,300,400,500,600,700,800,900,1000], "title": "t", "titleX": 150, "titleY": 16, "titleAlign": "center", "titleBaseline": "alphabetic", "labelPadding": 8}
                },
                "y": {
                  "field": "s", "type": "quantitative",
                  "scale": {"domain": [0, 60], "nice": false},
                  "axis": {"values": [0,10,20,30,40,50,60], "title": "sₜ", "titleAngle": 0, "titleX": -30, "titleY": 133, "titleAlign": "right", "titleBaseline": "middle", "labelPadding": 9}
                }
              }
            },
            {
              "mark": {"type": "point", "opacity": 0},
              "encoding": {
                "x": {"field": "t", "type": "quantitative", "axis": {"orient": "top", "values": [0,100,200,300,400,500,600,700,800,900,1000], "labels": false, "title": null}},
                "y": {"field": "s", "type": "quantitative", "axis": {"orient": "right", "values": [0,10,20,30,40,50,60], "labels": false, "title": null}}
              }
            }
          ],
          "resolve": {"axis": {"x": "independent", "y": "independent"}}
        }
      ]
    }
  ]
}
